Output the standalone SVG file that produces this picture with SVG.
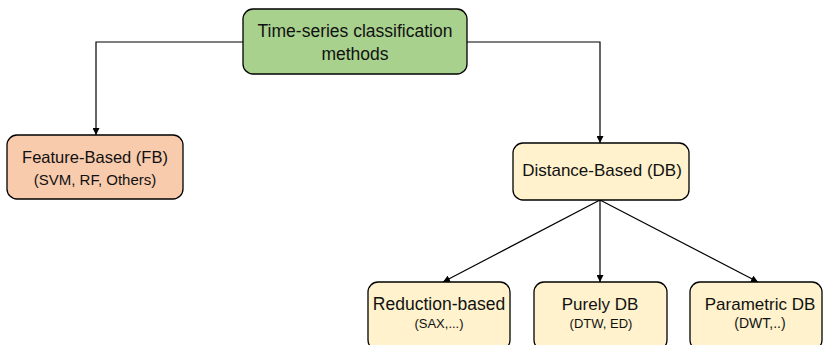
<svg xmlns="http://www.w3.org/2000/svg" width="825" height="345" viewBox="0 0 825 345">
<style>
.box{stroke:#000;stroke-width:1.3}
.green{fill:#a9d18e}
.orange{fill:#f8cbad}
.yellow{fill:#fff2cc}
.t{font-family:"Liberation Sans","Open Sans",sans-serif;font-size:17px;fill:#111;text-anchor:middle}
.s{font-family:"Liberation Sans","Open Sans",sans-serif;font-size:13px;fill:#111;text-anchor:middle}
.c{fill:none;stroke:#000;stroke-width:1.2}
</style>
<defs>
<marker id="arr" viewBox="0 0 10 10" refX="10" refY="5" markerWidth="7" markerHeight="7" markerUnits="userSpaceOnUse" orient="auto">
<path d="M0,0 L10,5 L0,10 z" fill="#000"/>
</marker>
</defs>
<g id="connectors">
<path class="c" d="M243,42 H96 V135" marker-end="url(#arr)"/>
<path class="c" d="M467,42 H600 V143" marker-end="url(#arr)"/>
<path class="c" d="M600,200 L443,282" marker-end="url(#arr)"/>
<path class="c" d="M600,200 L600,282" marker-end="url(#arr)"/>
<path class="c" d="M600,200 L758,282" marker-end="url(#arr)"/>
</g>
<g id="root">
<rect class="box green" x="243" y="9" width="224" height="65" rx="10"/>
<text class="t" x="355" y="37" style="font-size:17.5px">Time-series classification</text>
<text class="t" x="355" y="60" style="font-size:17.5px">methods</text>
</g>
<g id="fb">
<rect class="box orange" x="7" y="135" width="176" height="64" rx="10"/>
<text class="t" x="95" y="163" style="font-size:16.5px">Feature-Based (FB)</text>
<text class="s" x="95" y="185" style="font-size:15px">(SVM, RF, Others)</text>
</g>
<g id="db">
<rect class="box yellow" x="513" y="143" width="176" height="57" rx="10"/>
<text class="t" x="602" y="176">Distance-Based (DB)</text>
</g>
<g id="reduction">
<rect class="box yellow" x="368" y="282" width="142" height="68" rx="10"/>
<text class="t" x="439" y="310" style="font-size:17.5px">Reduction-based</text>
<text class="s" x="439" y="328">(SAX,...)</text>
</g>
<g id="purely">
<rect class="box yellow" x="534" y="282" width="133" height="68" rx="10"/>
<text class="t" x="600" y="310">Purely DB</text>
<text class="s" x="601" y="328">(DTW, ED)</text>
</g>
<g id="parametric">
<rect class="box yellow" x="690" y="282" width="132" height="68" rx="10"/>
<text class="t" x="760" y="310">Parametric DB</text>
<text class="s" x="760" y="328" style="font-size:14px">(DWT,..)</text>
</g>
</svg>
